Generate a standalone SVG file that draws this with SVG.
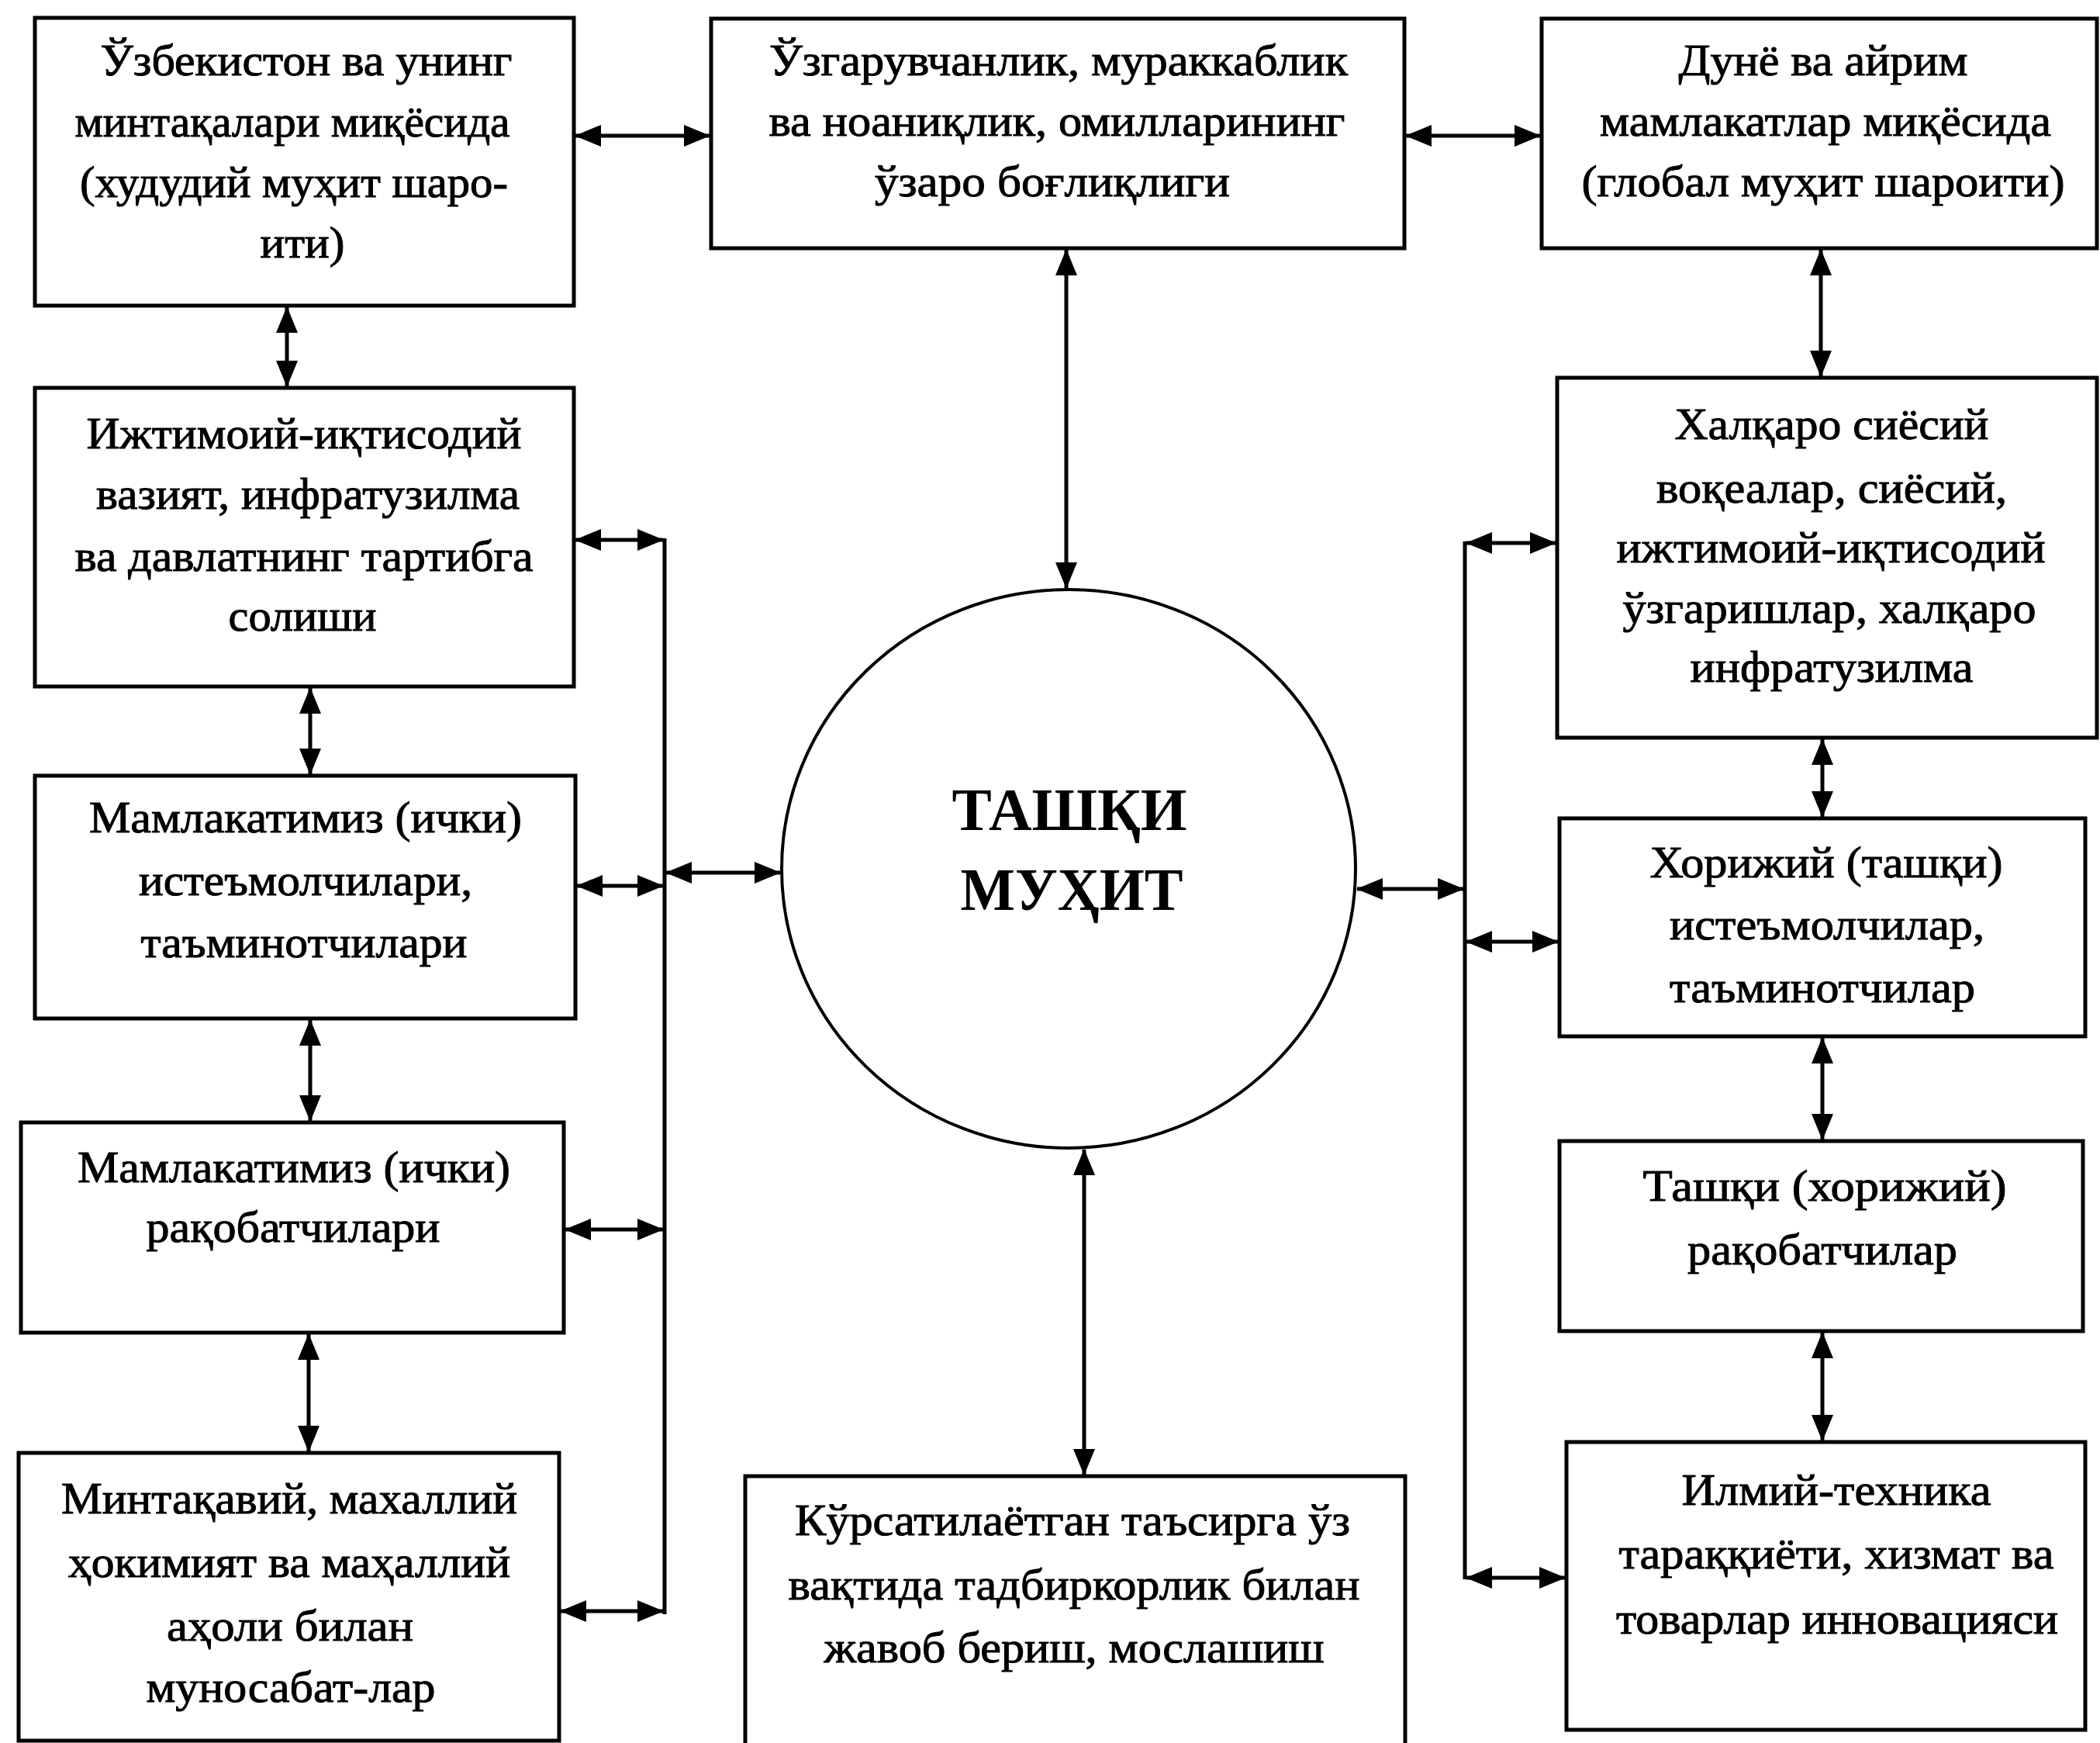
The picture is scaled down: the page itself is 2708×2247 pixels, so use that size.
<svg xmlns="http://www.w3.org/2000/svg" width="2708" height="2247" viewBox="0 0 2708 2247">
<style>
.bg{fill:#fff}
.box{fill:#fff;stroke:#000;stroke-width:5}
.circ{fill:#fff;stroke:#000;stroke-width:4}
.t{font-family:"Liberation Serif","DejaVu Serif",serif;font-size:57px;fill:#000;stroke:#000;stroke-width:1;text-anchor:middle}
.tc{font-family:"Liberation Serif","DejaVu Serif",serif;font-size:56px;fill:#000;stroke:#000;stroke-width:1;text-anchor:middle}
.tb{font-family:"Liberation Serif","DejaVu Serif",serif;font-size:78px;font-weight:bold;fill:#000;text-anchor:middle}
.c{fill:none;stroke:#000;stroke-width:5;marker-start:url(#ah);marker-end:url(#ah)}
.bus{fill:none;stroke:#000;stroke-width:5}
</style>
<defs>
<marker id="ah" markerUnits="userSpaceOnUse" markerWidth="34" markerHeight="28" refX="33" refY="14" orient="auto-start-reverse">
<path d="M0,0 L34,14 L0,28 z" fill="#000"/>
</marker>
</defs>
<rect class="bg" x="0" y="0" width="2708" height="2247"/>

<g id="connectors">
<line class="c" x1="742" y1="175" x2="915" y2="175"/>
<line class="c" x1="1813" y1="175" x2="1986" y2="175"/>
<line class="c" x1="370" y1="396" x2="370" y2="498"/>
<line class="c" x1="400" y1="887" x2="400" y2="998"/>
<line class="c" x1="400" y1="1315" x2="400" y2="1445"/>
<line class="c" x1="398" y1="1720" x2="398" y2="1871"/>
<line class="c" x1="1375" y1="322" x2="1375" y2="758"/>
<line class="c" x1="1398" y1="1482" x2="1398" y2="1901"/>
<line class="c" x1="2348" y1="322" x2="2348" y2="485"/>
<line class="c" x1="2350" y1="953" x2="2350" y2="1053"/>
<line class="c" x1="2350" y1="1338" x2="2350" y2="1469"/>
<line class="c" x1="2350" y1="1718" x2="2350" y2="1857"/>
<line class="bus" x1="857" y1="694" x2="857" y2="2081"/>
<line class="c" x1="742" y1="696" x2="855" y2="696"/>
<line class="c" x1="744" y1="1142" x2="855" y2="1142"/>
<line class="c" x1="729" y1="1585" x2="855" y2="1585"/>
<line class="c" x1="723" y1="2077" x2="855" y2="2077"/>
<line class="c" x1="859" y1="1125" x2="1006" y2="1125"/>
<line class="bus" x1="1889" y1="698" x2="1889" y2="2036"/>
<line class="c" x1="1891" y1="700" x2="2006" y2="700"/>
<line class="c" x1="1891" y1="1214" x2="2009" y2="1214"/>
<line class="c" x1="1891" y1="2034" x2="2018" y2="2034"/>
<line class="c" x1="1750" y1="1146" x2="1887" y2="1146"/>
</g>

<g id="n_uzb">
<rect class="box" x="45" y="23" width="695" height="371"/>
<text class="tc" x="395" y="97" textLength="531" lengthAdjust="spacingAndGlyphs">Ўзбекистон ва унинг</text>
<text class="tc" x="377" y="176" textLength="561" lengthAdjust="spacingAndGlyphs">минтақалари миқёсида</text>
<text class="tc" x="379" y="254" textLength="552" lengthAdjust="spacingAndGlyphs">(худудий муҳит шаро-</text>
<text class="tc" x="390" y="332" textLength="109" lengthAdjust="spacingAndGlyphs">ити)</text>
</g>

<g id="n_change">
<rect class="box" x="917" y="24" width="894" height="296"/>
<text class="tc" x="1365" y="97" textLength="746" lengthAdjust="spacingAndGlyphs">Ўзгарувчанлик, мураккаблик</text>
<text class="tc" x="1363" y="175" textLength="743" lengthAdjust="spacingAndGlyphs">ва ноаниқлик, омилларининг</text>
<text class="tc" x="1357" y="253" textLength="458" lengthAdjust="spacingAndGlyphs">ўзаро боғлиқлиги</text>
</g>

<g id="n_world">
<rect class="box" x="1988" y="24" width="716" height="296"/>
<text class="tc" x="2351" y="97" textLength="373" lengthAdjust="spacingAndGlyphs">Дунё ва айрим</text>
<text class="tc" x="2354" y="175" textLength="582" lengthAdjust="spacingAndGlyphs">мамлакатлар миқёсида</text>
<text class="tc" x="2351" y="253" textLength="623" lengthAdjust="spacingAndGlyphs">(глобал муҳит шароити)</text>
</g>

<g id="n_social">
<rect class="box" x="45" y="500" width="695" height="385"/>
<text class="t" x="392" y="578" textLength="561" lengthAdjust="spacingAndGlyphs">Ижтимоий-иқтисодий</text>
<text class="t" x="397" y="656" textLength="546" lengthAdjust="spacingAndGlyphs">вазият, инфратузилма</text>
<text class="t" x="392" y="736" textLength="591" lengthAdjust="spacingAndGlyphs">ва давлатнинг тартибга</text>
<text class="t" x="390" y="813" textLength="191" lengthAdjust="spacingAndGlyphs">солиши</text>
</g>

<g id="n_consumers_in">
<rect class="box" x="45" y="1000" width="697" height="313"/>
<text class="t" x="394" y="1073" textLength="558" lengthAdjust="spacingAndGlyphs">Мамлакатимиз (ички)</text>
<text class="t" x="394" y="1154" textLength="430" lengthAdjust="spacingAndGlyphs">истеъмолчилари,</text>
<text class="t" x="392" y="1234" textLength="421" lengthAdjust="spacingAndGlyphs">таъминотчилари</text>
</g>

<g id="n_competitors_in">
<rect class="box" x="27" y="1447" width="700" height="271"/>
<text class="t" x="379" y="1524" textLength="558" lengthAdjust="spacingAndGlyphs">Мамлакатимиз (ички)</text>
<text class="t" x="378" y="1601" textLength="379" lengthAdjust="spacingAndGlyphs">рақобатчилари</text>
</g>

<g id="n_local">
<rect class="box" x="24" y="1873" width="697" height="371"/>
<text class="t" x="373" y="1951" textLength="588" lengthAdjust="spacingAndGlyphs">Минтақавий, махаллий</text>
<text class="t" x="373" y="2033" textLength="570" lengthAdjust="spacingAndGlyphs">ҳокимият ва маҳаллий</text>
<text class="t" x="374" y="2115" textLength="318" lengthAdjust="spacingAndGlyphs">аҳоли билан</text>
<text class="t" x="375" y="2194" textLength="373" lengthAdjust="spacingAndGlyphs">муносабат-лар</text>
</g>

<g id="n_center">
<ellipse class="circ" cx="1378" cy="1120" rx="370" ry="360"/>
<text class="tb" x="1379" y="1070" textLength="303" lengthAdjust="spacingAndGlyphs">ТАШҚИ</text>
<text class="tb" x="1382" y="1173" textLength="287" lengthAdjust="spacingAndGlyphs">МУҲИТ</text>
</g>

<g id="n_response">
<rect class="box" x="961" y="1903" width="851" height="360"/>
<text class="t" x="1383" y="1979" textLength="716" lengthAdjust="spacingAndGlyphs">Кўрсатилаётган таъсирга ўз</text>
<text class="t" x="1385" y="2062" textLength="737" lengthAdjust="spacingAndGlyphs">вақтида тадбиркорлик билан</text>
<text class="t" x="1385" y="2143" textLength="645" lengthAdjust="spacingAndGlyphs">жавоб бериш, мослашиш</text>
</g>

<g id="n_intl">
<rect class="box" x="2008" y="487" width="696" height="464"/>
<text class="t" x="2362" y="566" textLength="405" lengthAdjust="spacingAndGlyphs">Халқаро сиёсий</text>
<text class="t" x="2362" y="648" textLength="452" lengthAdjust="spacingAndGlyphs">воқеалар, сиёсий,</text>
<text class="t" x="2361" y="725" textLength="553" lengthAdjust="spacingAndGlyphs">ижтимоий-иқтисодий</text>
<text class="t" x="2359" y="803" textLength="533" lengthAdjust="spacingAndGlyphs">ўзгаришлар, халқаро</text>
<text class="t" x="2362" y="879" textLength="365" lengthAdjust="spacingAndGlyphs">инфратузилма</text>
</g>

<g id="n_consumers_out">
<rect class="box" x="2011" y="1055" width="678" height="281"/>
<text class="t" x="2355" y="1131" textLength="455" lengthAdjust="spacingAndGlyphs">Хорижий (ташқи)</text>
<text class="t" x="2356" y="1211" textLength="406" lengthAdjust="spacingAndGlyphs">истеъмолчилар,</text>
<text class="t" x="2350" y="1292" textLength="394" lengthAdjust="spacingAndGlyphs">таъминотчилар</text>
</g>

<g id="n_competitors_out">
<rect class="box" x="2011" y="1471" width="675" height="245"/>
<text class="t" x="2353" y="1548" textLength="469" lengthAdjust="spacingAndGlyphs">Ташқи  (хорижий)</text>
<text class="t" x="2350" y="1630" textLength="348" lengthAdjust="spacingAndGlyphs">рақобатчилар</text>
</g>

<g id="n_science">
<rect class="box" x="2020" y="1859" width="669" height="371"/>
<text class="t" x="2368" y="1940" textLength="399" lengthAdjust="spacingAndGlyphs">Илмий-техника</text>
<text class="t" x="2368" y="2022" textLength="561" lengthAdjust="spacingAndGlyphs">тараққиёти, хизмат ва</text>
<text class="t" x="2369" y="2106" textLength="570" lengthAdjust="spacingAndGlyphs">товарлар инновацияси</text>
</g>
</svg>
